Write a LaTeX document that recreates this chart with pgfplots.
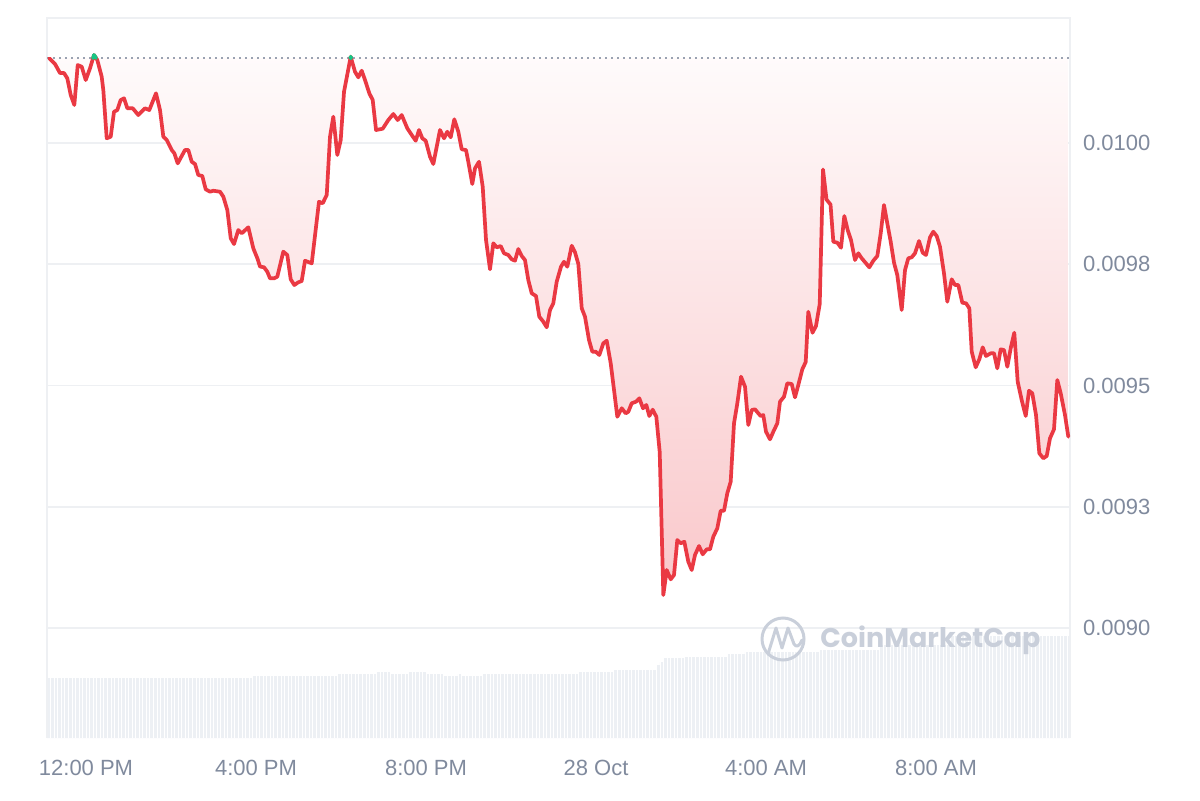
\documentclass[border=0pt]{standalone}
\usepackage{pgfplots}
\usepackage{pgfplotstable}
\pgfplotsset{compat=1.18}
\usepackage{fontspec}
\setmainfont{Liberation Sans}
\newfontfamily\wm{Poppins}
\definecolor{cmcred}{HTML}{EA3943}
\definecolor{cmcgreen}{HTML}{16C784}
\definecolor{cmctext}{HTML}{808A9D}
\definecolor{cmcgrid}{HTML}{EEF0F3}
\definecolor{volfill}{HTML}{EDF0F4}
\definecolor{wmcol}{HTML}{C9CFDA}
\definecolor{basecol}{HTML}{9AA2B1}

\pgfplotstableread{
x y
-0.864 0.0101746
-0.729 0.0101629
-0.612 0.0101443
-0.518 0.0101443
-0.440 0.0101334
-0.360 0.0100990
-0.275 0.0100784
-0.195 0.0101608
-0.101 0.0101573
-0.007 0.0101299
0.094 0.0101540
0.188 0.0101815
0.266 0.0101711
0.369 0.0101367
0.407 0.0101093
0.487 0.0100097
0.581 0.0100130
0.659 0.0100645
0.736 0.0100680
0.816 0.0100887
0.894 0.0100922
0.972 0.0100716
1.099 0.0100716
1.231 0.0100577
1.388 0.0100716
1.489 0.0100680
1.647 0.0101025
1.741 0.0100680
1.819 0.0100130
1.899 0.0100062
2.016 0.0099856
2.078 0.0099788
2.158 0.0099581
2.329 0.0099856
2.407 0.0099856
2.487 0.0099614
2.565 0.0099567
2.642 0.0099340
2.736 0.0099320
2.816 0.0099045
2.918 0.0098996
2.995 0.0099016
3.153 0.0098996
3.231 0.0098893
3.325 0.0098618
3.405 0.0098035
3.482 0.0097917
3.584 0.0098206
3.664 0.0098138
3.819 0.0098262
3.936 0.0097829
4.031 0.0097623
4.094 0.0097453
4.188 0.0097437
4.266 0.0097346
4.329 0.0097210
4.424 0.0097210
4.501 0.0097243
4.642 0.0097759
4.736 0.0097691
4.816 0.0097190
4.901 0.0097072
4.995 0.0097128
5.075 0.0097154
5.153 0.0097573
5.311 0.0097519
5.482 0.0098790
5.569 0.0098757
5.664 0.0098928
5.741 0.0100130
5.819 0.0100542
5.913 0.0099753
5.993 0.0100062
6.071 0.0101058
6.228 0.0101780
6.329 0.0101470
6.407 0.0101355
6.487 0.0101491
6.565 0.0101299
6.666 0.0101025
6.746 0.0100887
6.824 0.0100268
6.981 0.0100295
7.113 0.0100474
7.231 0.0100598
7.334 0.0100474
7.428 0.0100577
7.560 0.0100303
7.664 0.0100165
7.758 0.0100047
7.835 0.0100268
7.913 0.0100097
7.993 0.0100047
8.094 0.0099718
8.172 0.0099567
8.329 0.0100268
8.424 0.0100097
8.501 0.0100233
8.581 0.0100118
8.666 0.0100489
8.760 0.0100233
8.840 0.0099870
8.941 0.0099856
8.995 0.0099614
9.089 0.0099155
9.153 0.0099478
9.247 0.0099614
9.334 0.0099099
9.412 0.0098000
9.506 0.0097396
9.584 0.0097932
9.664 0.0097849
9.758 0.0097876
9.835 0.0097726
9.936 0.0097691
10.016 0.0097602
10.094 0.0097573
10.172 0.0097814
10.252 0.0097670
10.329 0.0097587
10.407 0.0097175
10.487 0.0096901
10.588 0.0096845
10.666 0.0096418
10.760 0.0096315
10.840 0.0096200
10.918 0.0096556
10.995 0.0096695
11.075 0.0097140
11.176 0.0097449
11.247 0.0097552
11.325 0.0097449
11.428 0.0097882
11.506 0.0097746
11.584 0.0097505
11.664 0.0096592
11.741 0.0096418
11.835 0.0095938
11.913 0.0095697
11.993 0.0095697
12.078 0.0095629
12.172 0.0095870
12.252 0.0095923
12.346 0.0095457
12.424 0.0094907
12.501 0.0094356
12.605 0.0094530
12.699 0.0094426
12.760 0.0094459
12.840 0.0094633
12.941 0.0094666
13.019 0.0094736
13.106 0.0094530
13.184 0.0094598
13.254 0.0094371
13.334 0.0094501
13.419 0.0094356
13.499 0.0093628
13.584 0.0090680
13.664 0.0091195
13.758 0.0091003
13.835 0.0091092
13.913 0.0091814
13.993 0.0091746
14.078 0.0091779
14.172 0.0091366
14.252 0.0091195
14.329 0.0091505
14.424 0.0091690
14.511 0.0091519
14.605 0.0091622
14.682 0.0091622
14.760 0.0091882
14.854 0.0092055
14.934 0.0092418
15.012 0.0092418
15.089 0.0092777
15.169 0.0093016
15.247 0.0094220
15.325 0.0094633
15.412 0.0095181
15.506 0.0094975
15.584 0.0094185
15.664 0.0094494
15.741 0.0094509
15.819 0.0094426
15.875 0.0094371
15.936 0.0094391
16.000 0.0094047
16.094 0.0093890
16.172 0.0094047
16.266 0.0094220
16.329 0.0094666
16.424 0.0094769
16.501 0.0095045
16.605 0.0095031
16.682 0.0094756
16.760 0.0095010
16.854 0.0095334
16.934 0.0095484
16.995 0.0096521
17.094 0.0096088
17.176 0.0096227
17.264 0.0096680
17.341 0.0099454
17.424 0.0098835
17.518 0.0098732
17.584 0.0097965
17.678 0.0097944
17.765 0.0097841
17.842 0.0098495
17.922 0.0098206
18.000 0.0098000
18.094 0.0097587
18.172 0.0097726
18.252 0.0097623
18.353 0.0097519
18.431 0.0097437
18.525 0.0097573
18.619 0.0097670
18.699 0.0098138
18.776 0.0098722
18.854 0.0098344
18.934 0.0097965
19.012 0.0097532
19.089 0.0097278
19.193 0.0096556
19.271 0.0097381
19.348 0.0097623
19.428 0.0097643
19.506 0.0097726
19.600 0.0097979
19.687 0.0097738
19.765 0.0097691
19.859 0.0098056
19.936 0.0098171
20.016 0.0098082
20.094 0.0097862
20.188 0.0097313
20.266 0.0096728
20.369 0.0097190
20.447 0.0097072
20.525 0.0097072
20.619 0.0096707
20.706 0.0096695
20.784 0.0096592
20.840 0.0095697
20.934 0.0095375
21.019 0.0095540
21.099 0.0095787
21.176 0.0095608
21.287 0.0095664
21.365 0.0095664
21.442 0.0095354
21.522 0.0095746
21.600 0.0095732
21.678 0.0095387
21.765 0.0095800
21.842 0.0096088
21.922 0.0095078
22.016 0.0094701
22.111 0.0094371
22.188 0.0094892
22.266 0.0094839
22.353 0.0094391
22.431 0.0093602
22.525 0.0093499
22.605 0.0093546
22.682 0.0093911
22.776 0.0094096
22.854 0.0095113
22.934 0.0094839
23.035 0.0094391
23.113 0.0093944
}\pricedata

\begin{document}
\begin{tikzpicture}
\path[use as bounding box] (0,0) rectangle (600pt,400pt);
% ---------- volume (5-minute bars) ----------
\begin{axis}[at={(23.5pt,31pt)}, anchor=south west, scale only axis,
  width=511.5pt, height=360pt,
  xmin=-11.02, xmax=277.8, ymin=0, ymax=720,
  axis line style={draw=none}, major tick length=0pt,
  xtick={-11,...,277}, xticklabels={}, ytick=\empty,
  xmajorgrids, grid style={white, line width=0.3pt},
  axis on top]
\addplot[const plot, fill=volfill, draw=none] coordinates {
(-11.02,60) (47,62) (71,64) (82,66) (86,64) (91,66) (96,64) (101,62)
(105,64) (106,62) (112,64) (139,66) (149,68) (161,73) (162,76) (163,80)
(169,81) (181,84) (186,86) (207,88) (224,93) (244,102) (277.8,102)
} \closedcycle;
\end{axis}
% frame
\draw[cmcgrid, line width=1pt] (23.5pt,31pt) -- (23.5pt,391pt) -- (535pt,391pt) -- (535pt,31pt);
% ---------- price ----------
\begin{axis}[at={(23.5pt,31pt)}, anchor=south west, scale only axis,
  width=511.5pt, height=360pt,
  xmin=-0.918, xmax=23.153, ymin=0.0087731, ymax=0.0102578,
  axis line style={draw=none}, major tick length=0pt,
  xtick={0,4,8,12,16,20},
  xticklabels={12:00 PM,4:00 PM,8:00 PM,28 Oct,4:00 AM,8:00 AM},
  ytick={0.009,0.00925,0.0095,0.00975,0.01},
  yticklabels={0.0090,0.0093,0.0095,0.0098,0.0100},
  scaled y ticks=false,
  yticklabel pos=right,
  ymajorgrids, grid style={cmcgrid, line width=0.8pt},
  ticklabel style={font=\fontsize{11}{13}\selectfont, text=cmctext},
  xticklabel style={anchor=center, yshift=-15pt},
  yticklabel style={anchor=west, xshift=3pt}]
\addplot[draw=none, top color=cmcred!2, bottom color=cmcred!28] table[x=x,y=y] {\pricedata}
  -- (axis cs:23.113,0.010175) -- (axis cs:-0.864,0.010175) -- cycle;
\addplot[basecol, line width=1pt, dash pattern=on 0.9pt off 2.1pt] coordinates {(-0.918,0.010175) (23.153,0.010175)};
\addplot[cmcred, line width=1.85pt, line join=round, line cap=round] table[x=x,y=y] {\pricedata};
\addplot[cmcgreen, line width=1.85pt, line join=round, line cap=round] coordinates {(0.165,0.010175) (0.188,0.0101815) (0.237,0.010175)};
\addplot[cmcgreen, line width=1.85pt, line join=round, line cap=round] coordinates {(6.221,0.010175) (6.228,0.0101780) (6.238,0.010175)};
\end{axis}
% ---------- watermark ----------
\draw[wmcol, line width=1.5pt] (391.5pt,80.5pt) circle (10.5pt);
\draw[wmcol, line width=1.5pt, line cap=round, line join=round]
  (384pt,73pt) -- (388pt,86pt) -- (391pt,76pt) -- (394pt,86pt) -- (397pt,78pt) .. controls (398pt,76pt) and (400pt,77pt) .. (401pt,80pt);
\node[anchor=west, inner sep=0pt, text=wmcol, font=\wm\bfseries\fontsize{13.5}{14}\selectfont] at (410pt,80pt) {CoinMarketCap};
\end{tikzpicture}
\end{document}
